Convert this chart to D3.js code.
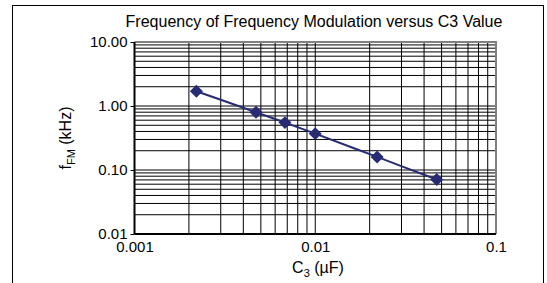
<!DOCTYPE html>
<html>
<head>
<meta charset="utf-8">
<script src="https://cdn.jsdelivr.net/npm/d3@7"></script>
<style>
  body { margin: 0; background: #fff; }
  text { font-family: "Liberation Sans", Arial, sans-serif; fill: #000; }
</style>
</head>
<body>
<svg id="chart" width="547" height="283"></svg>
<script>
// C3 in uF, fFM in kHz
var capValues = [0.0022, 0.0047, 0.0068, 0.01, 0.022, 0.047];
var freqValues = [1.7, 0.80, 0.55, 0.37, 0.16, 0.071];
var xTicks = [0.001, 0.01, 0.1];
var xTickLabels = ["0.001", "0.01", "0.1"];
var yTicks = [10, 1, 0.1, 0.01];
var yTickLabels = ["10.00", "1.00", "0.10", "0.01"];
var chartTitle = "Frequency of Frequency Modulation versus C3 Value";

var svg = d3.select("#chart");

// plot box (note: "top" is taken by window.top, so use other names)
var plotL = 134.5, plotR = 496, plotT = 42, plotB = 234;

var x = d3.scaleLog().domain([0.001, 0.1]).range([plotL, plotR]);
var y = d3.scaleLog().domain([0.01, 10]).range([plotB, plotT]);

// outer frame (open at the bottom)
svg.append("rect")
   .attr("x", 12.5).attr("y", 5.5)
   .attr("width", 531).attr("height", 300)
   .attr("fill", "none")
   .attr("stroke", "#000")
   .attr("stroke-width", 1);

// minor + major gridlines: 1..9 per decade
var gridX = [], gridY = [];
[0.001, 0.01].forEach(function(d) {
  for (var k = 1; k < 10; k++) gridX.push(d * k);
});
[0.01, 0.1, 1].forEach(function(d) {
  for (var k = 1; k < 10; k++) gridY.push(d * k);
});

var grid = svg.append("g").attr("class", "grid");
grid.selectAll("line.gx")
    .data(gridX.filter(function(d) { return d > 0.001; }))
  .enter().append("line")
    .attr("class", "gx")
    .attr("x1", function(d) { return x(d); })
    .attr("x2", function(d) { return x(d); })
    .attr("y1", plotT).attr("y2", plotB)
    .attr("stroke", "#000").attr("stroke-width", 1);

grid.selectAll("line.gy")
    .data(gridY.filter(function(d) { return d > 0.01; }))
  .enter().append("line")
    .attr("class", "gy")
    .attr("y1", function(d) { return y(d); })
    .attr("y2", function(d) { return y(d); })
    .attr("x1", plotL).attr("x2", plotR)
    .attr("stroke", "#000").attr("stroke-width", 1);

// gray top/right border
svg.append("path")
   .attr("d", "M" + plotL + "," + plotT + "H" + plotR + "V" + plotB)
   .attr("fill", "none")
   .attr("stroke", "#808080")
   .attr("stroke-width", 2);

// Add the Y Axis
var yAxis = svg.append("g")
   .attr("transform", "translate(" + plotL + ",0)")
   .call(d3.axisLeft(y).tickValues(yTicks).tickSize(4).tickPadding(3)
           .tickFormat(function(d, i) { return yTickLabels[i]; }));
yAxis.select(".domain").attr("stroke-width", 2).attr("d", "M0," + plotT + "V" + plotB);
yAxis.selectAll("text").style("font-size", "15px").attr("fill", "#000");

// Add the X Axis
var xAxis = svg.append("g")
   .attr("transform", "translate(0," + plotB + ")")
   .call(d3.axisBottom(x).tickValues(xTicks).tickSize(0).tickPadding(7)
           .tickFormat(function(d, i) { return xTickLabels[i]; }));
xAxis.select(".domain").attr("stroke-width", 2).attr("d", "M" + plotL + ",0H" + plotR);
xAxis.selectAll("text").style("font-size", "15px").attr("fill", "#000");

// title
svg.append("text")
   .attr("x", 314).attr("y", 27)
   .attr("text-anchor", "middle")
   .style("font-size", "16px")
   .text(chartTitle);

// x axis label: C3 (uF)
var xl = svg.append("text")
   .attr("x", 318).attr("y", 273)
   .attr("text-anchor", "middle")
   .style("font-size", "16px");
xl.append("tspan").text("C");
xl.append("tspan").attr("dy", 4).style("font-size", "11px").text("3");
xl.append("tspan").attr("dy", -4).text(" (\u00b5F)");

// y axis label: fFM (kHz)
var yl = svg.append("text")
   .attr("transform", "translate(71," + ((plotT + plotB) / 2) + ") rotate(-90)")
   .attr("text-anchor", "middle")
   .style("font-size", "16px");
yl.append("tspan").text("f");
yl.append("tspan").attr("dy", 4).style("font-size", "11px").text("FM");
yl.append("tspan").attr("dy", -4).text(" (kHz)");

// data line + markers
var pts = capValues.map(function(c, i) { return {c: c, f: freqValues[i]}; });
var color = "#272b74";

var fmline = d3.line()
    .x(function(d) { return x(d.c); })
    .y(function(d) { return y(d.f); })
    .curve(d3.curveCatmullRom);

svg.append("path")
   .attr("d", fmline(pts))
   .attr("fill", "none")
   .attr("stroke", color)
   .attr("stroke-width", 2);

svg.selectAll("path.marker")
    .data(pts)
  .enter().append("path")
    .attr("class", "marker")
    .attr("d", d3.symbol(d3.symbolSquare, 84))
    .attr("transform", function(d) {
      return "translate(" + x(d.c) + "," + y(d.f) + ") rotate(45)";
    })
    .attr("fill", color);
</script>
</body>
</html>
